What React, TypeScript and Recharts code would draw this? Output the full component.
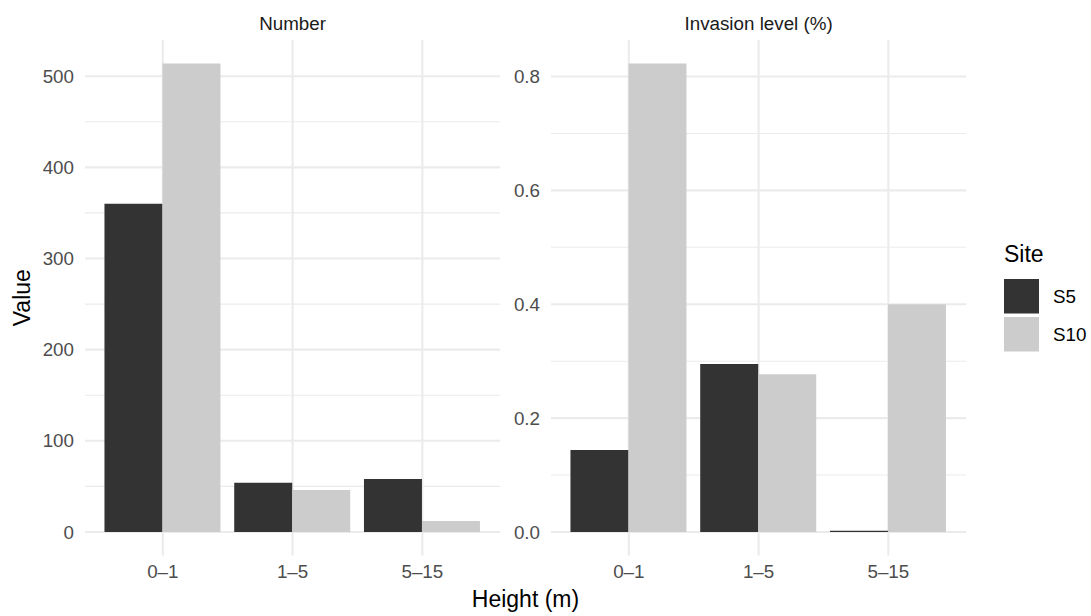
import React from 'react';
import { BarChart, Bar, XAxis, YAxis, CartesianGrid } from 'recharts';

const categories = ['0–1', '1–5', '5–15'];
const siteNames = ['S5', 'S10'];
const numberS5 = [360, 54, 58];
const numberS10 = [514, 46, 12];
const invasionS5 = [0.144, 0.295, 0.002];
const invasionS10 = [0.823, 0.277, 0.4];
const numberTicks = [0, 100, 200, 300, 400, 500];
const numberMinor = [50, 150, 250, 350, 450];
const invasionTicks = [0, 0.2, 0.4, 0.6, 0.8];
const invasionMinor = [0.1, 0.3, 0.5, 0.7];

const FONT = '"Liberation Sans", Arial, Helvetica, sans-serif';
const DARK = '#333333';
const LIGHT = '#CCCCCC';
const GRID = '#EBEBEB';
const SMALL = 18.8;
const TITLE = 23;

const CHART_W = 510;
const CHART_H = 616;
const Y_W = 85;
const M_RIGHT = 9.8;
const M_TOP = 40;
const X_H = 40;
const M_BOTTOM = 20.6;
const PLOT_W = CHART_W - Y_W - M_RIGHT;
const BAND_PAD = (PLOT_W / 3.2) * 0.1;

const numberData = categories.map((c, i) => ({ cat: c, S5: numberS5[i], S10: numberS10[i] }));
const invasionData = categories.map((c, i) => ({ cat: c, S5: invasionS5[i], S10: invasionS10[i] }));

function Panel({ data, ticks, minor, fmt }: { data: any[]; ticks: number[]; minor: number[]; fmt: (v: number) => string }) {
  const max = Math.max(...data.map((d) => Math.max(d.S5, d.S10)));
  return (
    <BarChart
      width={CHART_W}
      height={CHART_H}
      data={data}
      margin={{ top: M_TOP, right: M_RIGHT, bottom: M_BOTTOM, left: 0 }}
      barGap={0}
      barCategoryGap="5%"
    >
      <CartesianGrid stroke={GRID} strokeWidth={1.1} horizontalValues={minor} vertical={false} syncWithTicks />
      <CartesianGrid stroke={GRID} strokeWidth={2.1} syncWithTicks />
      <XAxis
        dataKey="cat"
        height={X_H}
        padding={{ left: BAND_PAD, right: BAND_PAD }}
        tickLine={false}
        axisLine={false}
        tickSize={0}
        tickMargin={9}
        interval={0}
        tick={{ fontSize: SMALL, fill: '#4D4D4D', fontFamily: FONT }}
      />
      <YAxis
        type="number"
        width={Y_W}
        domain={[-0.05 * max, 1.05 * max]}
        ticks={ticks}
        interval={0}
        allowDataOverflow
        tickLine={false}
        axisLine={false}
        tickSize={0}
        tickMargin={11}
        tickFormatter={fmt}
        tick={{ fontSize: SMALL, fill: '#4D4D4D', fontFamily: FONT }}
      />
      <Bar dataKey="S5" fill={DARK} isAnimationActive={false} />
      <Bar dataKey="S10" fill={LIGHT} isAnimationActive={false} />
    </BarChart>
  );
}

export default function App() {
  return (
    <div style={{ position: 'absolute', left: 0, top: 0, width: 1091, height: 616, background: '#fff', fontFamily: FONT }}>
      <div style={{ position: 'absolute', left: 0, top: 0 }}>
        <Panel data={numberData} ticks={numberTicks} minor={numberMinor} fmt={(v) => String(v)} />
      </div>
      <div style={{ position: 'absolute', left: 466, top: 0 }}>
        <Panel data={invasionData} ticks={invasionTicks} minor={invasionMinor} fmt={(v) => v.toFixed(1)} />
      </div>
      <svg width={1091} height={616} style={{ position: 'absolute', left: 0, top: 0, pointerEvents: 'none' }}>
        <text x={292.6} y={23} textAnchor="middle" dominantBaseline="central" fontSize={SMALL} fill="#1A1A1A" fontFamily={FONT}>Number</text>
        <text x={758.6} y={23} textAnchor="middle" dominantBaseline="central" fontSize={SMALL} fill="#1A1A1A" fontFamily={FONT}>Invasion level (%)</text>
        <text x={525.5} y={599} textAnchor="middle" dominantBaseline="central" fontSize={TITLE} fill="#000" fontFamily={FONT}>Height (m)</text>
        <text x={22} y={297.7} textAnchor="middle" dominantBaseline="central" fontSize={TITLE} fill="#000" fontFamily={FONT} transform="rotate(-90 22 297.7)">Value</text>
        <text x={1004} y={254} dominantBaseline="central" fontSize={TITLE} fill="#000" fontFamily={FONT}>Site</text>
        {siteNames.map((s, i) => (
          <g key={s}>
            <rect x={1004} y={279 + i * 38} width={35} height={34.5} fill={i === 0 ? DARK : LIGHT} />
            <text x={1053} y={296.3 + i * 38} dominantBaseline="central" fontSize={SMALL} fill="#000" fontFamily={FONT}>{s}</text>
          </g>
        ))}
      </svg>
    </div>
  );
}
